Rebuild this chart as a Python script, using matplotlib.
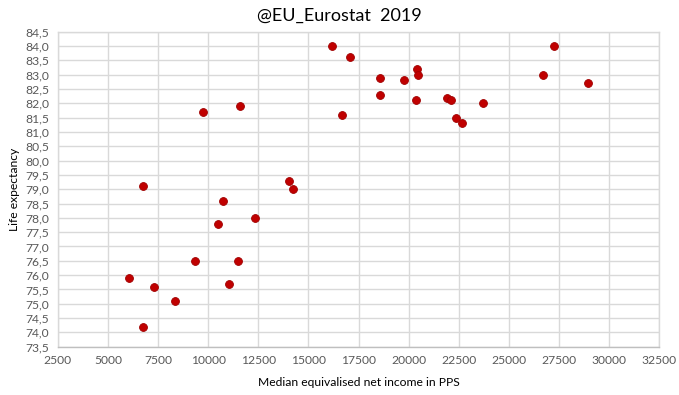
import matplotlib.pyplot as plt
from matplotlib.ticker import FuncFormatter, MultipleLocator

plt.rcParams['font.family'] = ['Lato', 'DejaVu Sans']

# Median equivalised net income (PPS) vs life expectancy, 2019
income = [16159, 9758, 11588, 16658, 6767, 14030, 14215, 17086, 18567, 19778,
          20396, 20463, 18567, 20346, 21922, 22106, 23686, 22340, 22670, 27241,
          26677, 28921, 10725, 12321, 10491, 9360, 11503, 6069, 7316, 11024,
          8362, 6737]
life_exp = [84.0, 81.7, 81.9, 81.6, 79.1, 79.3, 79.0, 83.6, 82.9, 82.8,
            83.2, 83.0, 82.3, 82.1, 82.2, 82.1, 82.0, 81.5, 81.3, 84.0,
            83.0, 82.7, 78.6, 78.0, 77.8, 76.5, 76.5, 75.9, 75.6, 75.7,
            75.1, 74.2]

fig = plt.figure(figsize=(6.79, 3.95), dpi=100)
ax = fig.add_axes([0.085, 0.1223, 0.886, 0.7974])

ax.scatter(income, life_exp, s=32, color='#C00000', edgecolors='#A00000',
           linewidths=0.6, zorder=3)

ax.set_xlim(2500, 32500)
ax.set_ylim(73.5, 84.5)
ax.xaxis.set_major_locator(MultipleLocator(2500))
ax.yaxis.set_major_locator(MultipleLocator(0.5))
ax.yaxis.set_major_formatter(FuncFormatter(lambda v, p: f'{v:.1f}'.replace('.', ',')))
ax.xaxis.set_major_formatter(FuncFormatter(lambda v, p: f'{v:.0f}'))

ax.grid(True, color='#D9D9D9', linewidth=1.0, zorder=0)
ax.set_axisbelow(True)
for s in ax.spines.values():
    s.set_color('#D9D9D9')
    s.set_linewidth(1.0)
ax.spines['bottom'].set_color('#BFBFBF')
ax.tick_params(length=0, labelsize=8.7, colors='#595959', pad=6)

fig.text(0.5, 1 - 16 / 395, '@EU_Eurostat  2019', fontsize=13, color='black',
         ha='center', va='center')
ax.set_xlabel('Median equivalised net income in PPS', fontsize=8.7, labelpad=8)
ax.set_ylabel('Life expectancy', fontsize=8.7, labelpad=4)

fig.savefig('out.png', dpi=100)
